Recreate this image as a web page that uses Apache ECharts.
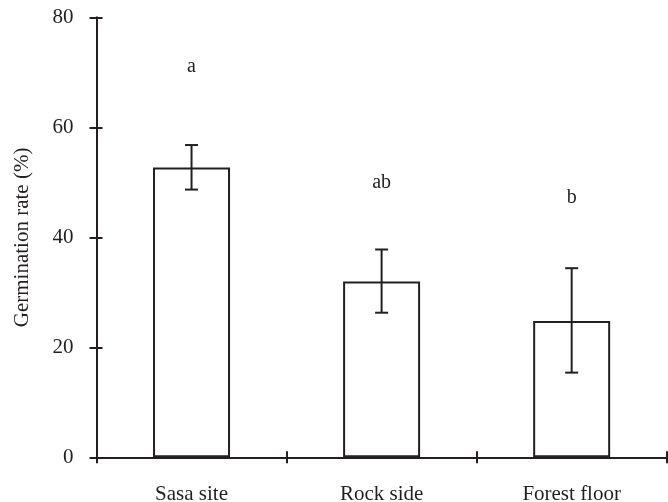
<!DOCTYPE html>
<html>
<head>
<meta charset="utf-8">
<script src="https://cdn.jsdelivr.net/npm/echarts@6/dist/echarts.min.js"></script>
<style>
  html, body { margin: 0; padding: 0; background: #fff; }
  #chart { width: 668px; height: 502px; }
</style>
</head>
<body>
<div id="chart"></div>
<script>
// germination rate by site
const sites = ['Sasa site', 'Rock side', 'Forest floor'];
const germination = [52.7, 32.0, 24.8];
const errLow = [48.7, 26.3, 15.4];
const errHigh = [56.8, 37.8, 34.4];
// significance letters and the height they sit at
const letters = ['a', 'ab', 'b'];
const letterY = [71, 50, 47.3];

const ink = '#231f20';
const font = 'Liberation Serif';

let myChart = echarts.init(document.getElementById('chart'));

myChart.setOption({
  animation: false,
  grid: { left: 96.5, right: 1.3, top: 17.5, bottom: 44.7, outerBoundsMode: 'none' },
  xAxis: [
    {
      type: 'category',
      data: sites,
      position: 'bottom',
      axisLine: { lineStyle: { color: ink, width: 2 } },
      axisTick: { show: true, length: 6, lineStyle: { color: ink, width: 2 } },
      axisLabel: { color: ink, fontFamily: font, fontSize: 21, margin: 27 }
    },
    {
      // second axis only for the inner half of the crossing ticks
      type: 'category',
      data: sites,
      position: 'bottom',
      axisLine: { show: true, lineStyle: { color: ink, width: 2 } },
      axisTick: { show: true, inside: true, length: 6, lineStyle: { color: ink, width: 2 } },
      axisLabel: { show: false }
    }
  ],
  yAxis: [
    {
      type: 'value',
      min: 0,
      max: 80,
      interval: 20,
      position: 'left',
      name: 'Germination rate (%)',
      nameLocation: 'middle',
      nameGap: 64,
      nameTextStyle: { color: ink, fontFamily: font, fontSize: 21 },
      splitLine: { show: false },
      axisLine: { show: true, lineStyle: { color: ink, width: 2 } },
      axisTick: { show: true, length: 7, lineStyle: { color: ink, width: 2 } },
      axisLabel: { color: ink, fontFamily: font, fontSize: 21, margin: 23 }
    },
    {
      type: 'value',
      min: 0,
      max: 80,
      interval: 20,
      position: 'left',
      splitLine: { show: false },
      axisLine: { show: true, lineStyle: { color: ink, width: 2 } },
      axisTick: { show: true, inside: true, length: 6, lineStyle: { color: ink, width: 2 } },
      axisLabel: { show: false }
    }
  ],
  series: [
    {
      type: 'bar',
      data: germination,
      barWidth: 77,
      itemStyle: { color: '#fff', borderColor: ink, borderWidth: 2 },
      z: 2
    },
    {
      type: 'custom',
      data: sites.map((s, i) => [i, errLow[i], errHigh[i]]),
      renderItem: function (params, api) {
        const lo = api.coord([api.value(0), api.value(1)]);
        const hi = api.coord([api.value(0), api.value(2)]);
        const w = 6.5;
        const style = { stroke: ink, lineWidth: 2, fill: null };
        return {
          type: 'group',
          children: [
            { type: 'line', shape: { x1: lo[0], y1: lo[1], x2: hi[0], y2: hi[1] }, style: style },
            { type: 'line', shape: { x1: lo[0] - w, y1: lo[1], x2: lo[0] + w, y2: lo[1] }, style: style },
            { type: 'line', shape: { x1: hi[0] - w, y1: hi[1], x2: hi[0] + w, y2: hi[1] }, style: style }
          ]
        };
      },
      z: 3
    },
    {
      // letters sit on the second pair of axes
      type: 'scatter',
      xAxisIndex: 1,
      yAxisIndex: 1,
      data: sites.map((s, i) => [i, letterY[i]]),
      symbolSize: 0,
      itemStyle: { opacity: 1 },
      label: {
        show: true,
        position: 'inside',
        formatter: (p) => letters[p.dataIndex],
        color: ink,
        fontFamily: font,
        fontSize: 20
      }
    }
  ]
});
</script>
</body>
</html>
